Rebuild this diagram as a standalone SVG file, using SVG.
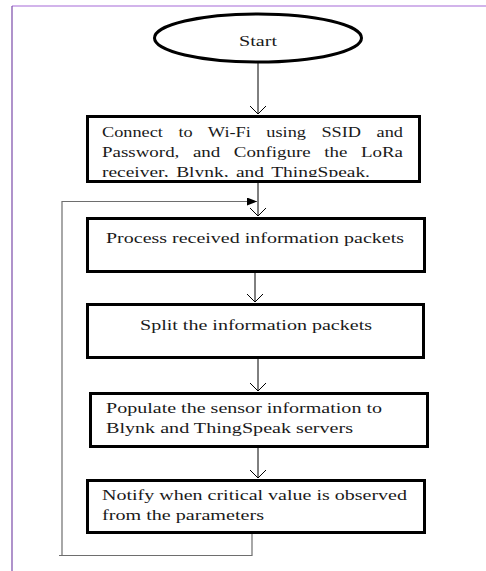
<svg xmlns="http://www.w3.org/2000/svg" width="486" height="571" viewBox="0 0 486 571">
<style>
.box{fill:#fff;stroke:#000;stroke-width:3}
.t{font-size:15px;fill:#1a1a1a}
.c{stroke:#000;stroke-width:1;fill:none}
.loop{stroke:#6e6e6e;stroke-width:1.2;fill:none}
</style>
<defs>
<marker id="fa" viewBox="0 0 10 8" refX="10" refY="4" markerWidth="10" markerHeight="8" markerUnits="userSpaceOnUse" orient="auto">
<path d="M0,0 L10,4 L0,8 Z" fill="#000"/>
</marker>
<clipPath id="clip1"><rect x="86" y="115" width="335" height="62"/></clipPath>
</defs>
<rect width="486" height="571" fill="#fff"/>
<line x1="12" y1="6" x2="486" y2="6" stroke="#a56ad8" stroke-width="1.2"/>
<line x1="12" y1="6" x2="12" y2="571" stroke="#7a4aa8" stroke-width="1.2"/>

<g id="connectors">
<path class="c" d="M258,63 V114 M250,106 L258,114 L266,106"/>
<path class="c" d="M258,183 V216 M250,208 L258,216 L266,208"/>
<path class="c" d="M255,273 V302 M247,294 L255,302 L263,294"/>
<path class="c" d="M258,359 V391 M250,383 L258,391 L266,383"/>
<path class="c" d="M258,448 V478 M250,470 L258,478 L266,470"/>
<path class="loop" d="M252,534 V555.5 H59"/>
<path class="loop" d="M62,555.5 V201.5 H257" marker-end="url(#fa)"/>
</g>

<g font-family="Liberation Serif, serif">
<g id="start">
<ellipse cx="258" cy="38" rx="103.5" ry="24" fill="#fff" stroke="#000" stroke-width="3"/>
<text class="t" x="258" y="46" text-anchor="middle" font-size="16" textLength="38" lengthAdjust="spacingAndGlyphs">Start</text>
</g>

<g id="connect">
<rect class="box" x="87.5" y="116.5" width="332" height="65"/>
<g clip-path="url(#clip1)">
<text class="t" x="102" y="137" word-spacing="9" textLength="301" lengthAdjust="spacingAndGlyphs">Connect to Wi-Fi using SSID and</text>
<text class="t" x="102" y="157" word-spacing="7" textLength="301" lengthAdjust="spacingAndGlyphs">Password, and Configure the LoRa</text>
<text class="t" x="102" y="177" word-spacing="2" textLength="268" lengthAdjust="spacingAndGlyphs">receiver, Blynk, and ThingSpeak.</text>
</g>
</g>

<g id="process">
<rect class="box" x="87.5" y="218.5" width="337" height="53"/>
<text class="t" x="106" y="243" textLength="298" lengthAdjust="spacingAndGlyphs">Process received information packets</text>
</g>

<g id="split">
<rect class="box" x="87.5" y="304.5" width="336" height="53"/>
<text class="t" x="140" y="330" textLength="232" lengthAdjust="spacingAndGlyphs">Split the information packets</text>
</g>

<g id="populate">
<rect class="box" x="90.5" y="393.5" width="337" height="53"/>
<text class="t" x="106" y="413" textLength="276" lengthAdjust="spacingAndGlyphs">Populate the sensor information to</text>
<text class="t" x="106" y="433" textLength="247" lengthAdjust="spacingAndGlyphs">Blynk and ThingSpeak servers</text>
</g>

<g id="notify">
<rect class="box" x="87.5" y="480.5" width="337" height="52"/>
<text class="t" x="102" y="500" textLength="305" lengthAdjust="spacingAndGlyphs">Notify when critical value is observed</text>
<text class="t" x="102" y="520" textLength="162" lengthAdjust="spacingAndGlyphs">from the parameters</text>
</g>
</g>
</svg>
